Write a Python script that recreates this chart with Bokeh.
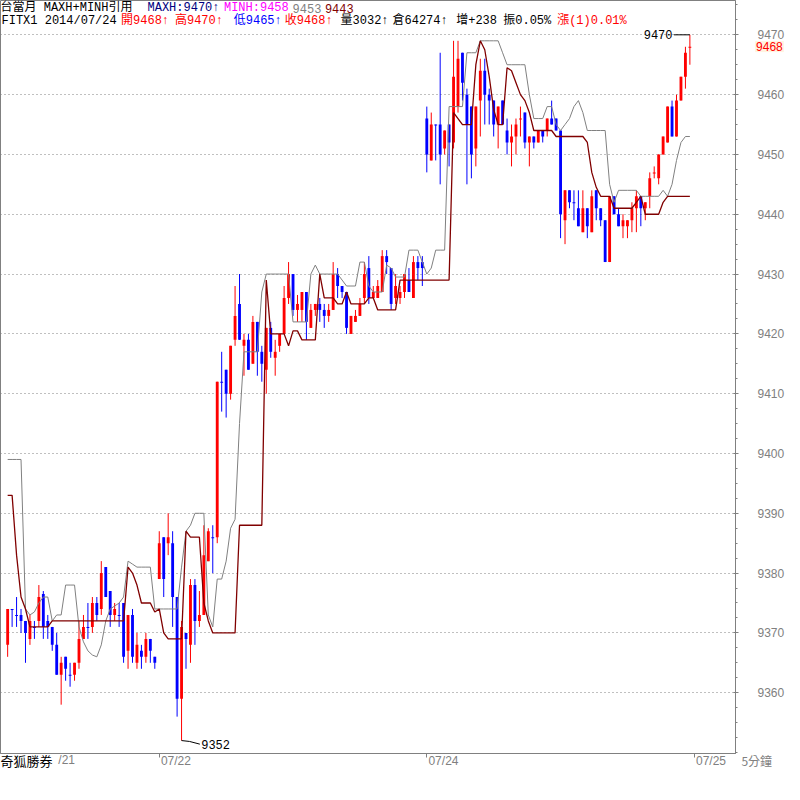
from bokeh.plotting import figure
from bokeh.models import Range1d, FixedTicker, Label, BoxAnnotation
from bokeh.embed import file_html
from bokeh.resources import INLINE

# ---------------- data (5-minute bars, FITX1) ----------------
opens = [9368, 9374, 9373, 9373, 9372, 9369, 9371, 9372, 9376.5, 9372,
         9371, 9368, 9363, 9366, 9363, 9363, 9365, 9369, 9371, 9371,
         9375, 9374, 9381, 9377, 9373, 9373, 9375, 9367, 9373, 9365,
         9367, 9366, 9369, 9366, 9379, 9386, 9385, 9385, 9376, 9359,
         9370, 9368, 9378, 9372, 9373, 9382, 9386, 9386, 9412, 9414,
         9410, 9419, 9425, 9418, 9419, 9415, 9422, 9417, 9414, 9421,
         9416, 9418, 9420, 9426, 9430, 9424, 9424, 9427, 9421, 9424,
         9425, 9424, 9423, 9424, 9430, 9428, 9427, 9420, 9422, 9423,
         9426, 9431, 9426, 9426, 9427, 9433, 9431, 9426, 9426, 9427,
         9429, 9426, 9432, 9432, 9456, 9449, 9455, 9455, 9451, 9455,
         9452, 9458, 9467, 9460, 9458, 9451, 9459, 9464, 9460, 9459,
         9455, 9459, 9454, 9452, 9453, 9456, 9457, 9452, 9453, 9452,
         9454, 9454, 9456, 9456, 9454, 9439, 9444, 9442, 9441, 9437,
         9441, 9437, 9444, 9441, 9439, 9432, 9443, 9440, 9438, 9438,
         9439, 9441, 9443, 9441, 9443, 9447, 9446, 9450, 9452, 9458,
         9453, 9459, 9463, 9468]
highs = [9374, 9374, 9376, 9374, 9372, 9373, 9372, 9378, 9377, 9373,
         9371, 9370, 9366, 9366, 9365, 9365, 9372, 9373, 9375, 9376,
         9376, 9382, 9381, 9377, 9375, 9375, 9375, 9373, 9374, 9370,
         9368, 9370, 9369, 9366, 9387, 9386, 9390, 9387, 9376, 9372,
         9370, 9379, 9379, 9377, 9388, 9387.5, 9388, 9412, 9417, 9414,
         9418, 9428, 9430, 9420, 9420, 9423, 9422, 9418, 9421, 9422,
         9419, 9420, 9428, 9432, 9430, 9426.5, 9427, 9427, 9425, 9425,
         9426, 9425, 9425, 9432, 9431, 9428, 9427, 9423, 9424, 9426,
         9432, 9433, 9428, 9429, 9434, 9434, 9431, 9430, 9428, 9430,
         9431, 9433, 9433, 9433, 9458, 9457, 9455, 9467, 9454, 9455,
         9469, 9469, 9467, 9461, 9458, 9458, 9466, 9466, 9461, 9459,
         9458, 9459, 9456, 9455, 9456, 9458, 9457, 9453, 9453, 9454,
         9454, 9456, 9459, 9456, 9454, 9444, 9444, 9444, 9444, 9444,
         9441, 9444, 9444, 9441, 9439, 9443, 9443, 9441, 9440, 9439,
         9442, 9444, 9443, 9442, 9447, 9448, 9450, 9453, 9458, 9459,
         9460, 9463, 9468, 9470]
lows = [9366, 9371, 9371, 9370, 9365, 9368, 9369, 9371, 9369, 9369,
        9367, 9363, 9358, 9362, 9361, 9362, 9364, 9369, 9369, 9370,
        9372, 9373, 9376, 9371, 9372, 9371, 9365, 9364, 9365, 9364,
        9364, 9365, 9365, 9364, 9379, 9376, 9383, 9371, 9356, 9352,
        9364, 9365, 9368, 9371, 9373, 9382, 9380, 9385, 9407, 9406,
        9409, 9418, 9419, 9413, 9414, 9415, 9413, 9412, 9410, 9416,
        9413, 9417, 9420, 9425, 9423, 9422, 9422, 9419, 9421, 9423,
        9422, 9421, 9422, 9424, 9426, 9426, 9420, 9420, 9422, 9423,
        9425, 9425, 9426, 9426, 9427, 9430, 9424, 9425, 9425, 9426,
        9427, 9426, 9429, 9428, 9447, 9449, 9449, 9445, 9450, 9448,
        9451, 9457, 9459, 9445, 9446, 9448, 9453, 9455, 9455, 9453,
        9451, 9455, 9450, 9448, 9450, 9453, 9451, 9448, 9451, 9452,
        9452, 9453, 9455, 9454, 9436, 9435, 9441, 9439, 9438, 9437,
        9436, 9437, 9439, 9438, 9432, 9432, 9440, 9438, 9436, 9436,
        9437, 9437, 9438, 9439, 9441, 9446, 9445, 9450, 9452, 9453,
        9453, 9459, 9461, 9465]
closes = [9374, 9374, 9373, 9372, 9370, 9372, 9371, 9376, 9371, 9371,
          9368, 9363, 9365, 9364, 9363, 9365, 9369, 9371, 9371, 9375,
          9373, 9380, 9376, 9373, 9374, 9373, 9366, 9373, 9366, 9368,
          9366, 9369, 9367, 9365, 9385, 9379, 9386, 9376, 9359, 9371,
          9369, 9378, 9372, 9373, 9383, 9387, 9386, 9412, 9412, 9410,
          9418, 9423, 9419, 9419, 9414, 9422, 9417, 9415, 9421, 9417,
          9417, 9420, 9426, 9430, 9424, 9425, 9427, 9422, 9424, 9425,
          9424, 9423, 9424, 9430, 9428, 9427, 9421, 9423, 9423, 9425,
          9430, 9426, 9427, 9428, 9433, 9432, 9425, 9428, 9427, 9430,
          9427, 9432, 9431, 9431, 9450, 9455, 9455, 9450, 9454, 9452,
          9463, 9466, 9462, 9455, 9450, 9458, 9464, 9460, 9459, 9455,
          9458, 9455, 9452, 9453, 9455, 9456, 9452, 9453, 9452, 9454,
          9453, 9456, 9455, 9454, 9440, 9444, 9442, 9442, 9438, 9441,
          9438, 9443, 9441, 9439, 9432, 9443, 9440, 9438, 9439, 9439,
          9441, 9443, 9441, 9442, 9446, 9447, 9450, 9453, 9458, 9453,
          9459, 9463, 9467, 9468]
# grey reference line (9453 at the last bar)
grey_line = [9399, 9399, 9399, 9399, 9374, 9373, 9373.5, 9375, 9376, 9376,
             9372, 9373, 9373, 9378, 9378, 9378, 9371, 9368.5, 9367, 9366.3,
             9366, 9368, 9372, 9374, 9374.5, 9375, 9376, 9382, 9381.5, 9381,
             9381, 9381, 9381, 9374, 9374, 9374, 9374, 9374, 9374, 9381,
             9387, 9388, 9390, 9390, 9390, 9373, 9371, 9379, 9379, 9382,
             9387.5, 9389, 9405, 9417, 9417, 9417, 9417, 9427, 9430, 9430,
             9430, 9430, 9430, 9430, 9422, 9422, 9422, 9422, 9430, 9431.5,
             9430, 9430, 9430, 9430, 9430, 9429, 9428, 9428, 9428, 9432,
             9432, 9428, 9427, 9427, 9427, 9431.5, 9431, 9429.5, 9429.5, 9429.5,
             9434, 9434, 9434, 9432, 9430, 9431, 9434, 9434, 9434, 9458,
             9458, 9458, 9458, 9467, 9467, 9467, 9469, 9469, 9469, 9469,
             9469, 9467, 9465, 9465, 9465, 9465, 9465, 9460, 9456, 9456,
             9456, 9458, 9458, 9455, 9454, 9455, 9456, 9458, 9459, 9457,
             9454, 9454, 9454, 9454, 9454, 9445, 9442, 9444, 9444, 9444,
             9444, 9444, 9443, 9443, 9443, 9443, 9443, 9444, 9443, 9445,
             9449, 9452, 9453, 9453]
# dark red reference line (9443 at the last bar)
maroon_line = [9393, 9393, 9383, 9376, 9374, 9371, 9371, 9371, 9371, 9371,
               9372, 9372, 9372, 9372, 9372, 9372, 9372, 9372, 9372, 9372,
               9372, 9372, 9372, 9372, 9372, 9372, 9372, 9381, 9380, 9378,
               9375, 9375, 9375, 9373.5, 9374, 9370, 9369, 9369, 9369, 9369,
               9387, 9386, 9386, 9386, 9375, 9372, 9370, 9370, 9370, 9370,
               9370, 9370, 9388, 9388, 9388, 9388, 9388, 9388, 9429, 9420,
               9420, 9420, 9420, 9418, 9420.5, 9420.5, 9419, 9419, 9419, 9419,
               9430, 9426, 9426, 9426, 9425, 9425, 9427, 9425, 9425, 9425,
               9425, 9426, 9426, 9424, 9424, 9424, 9424, 9424, 9429, 9429,
               9429, 9429, 9429, 9429, 9429, 9429, 9429, 9429, 9429, 9429,
               9457, 9456, 9455, 9455, 9455, 9465, 9469, 9467.5, 9463, 9457.5,
               9455, 9455, 9464.5, 9464, 9462, 9460, 9459, 9457, 9454, 9454,
               9454, 9454, 9454, 9453, 9453, 9453, 9453, 9453, 9453, 9453,
               9452, 9447, 9444.5, 9443, 9443, 9443, 9441, 9441, 9441, 9441,
               9441, 9442, 9443, 9440, 9440, 9440, 9440, 9442, 9443, 9443,
               9443, 9443, 9443, 9443]
day_ticks = [34, 94, 154]
day_labels = ["07/22", "07/24", "07/25"]
price_ticks = list(range(9360, 9471, 10))

# ---------------- layout helpers (reference pixel -> data) ----------------
BAR0, STEP = 7.3, 4.55          # x pixel of bar 0, pixels per bar
Y9470, PPT = 35.0, 6.1          # y pixel of 9470, pixels per point
S = 0.98                        # overall scale of the page
FRAME_W, FRAME_H = 750, 768     # reference frame size


def px(x):
    return (x - BAR0) / STEP


def py(y):
    return 9470 - (y - Y9470) / PPT


GREY, MAROON = "#808080", "#800000"
RED, BLUE = "#ff0000", "#0000ff"
MONO = "'Liberation Mono', 'Noto Sans CJK TC', monospace"
CJK = "'Noto Sans CJK TC', sans-serif"
NUM = "'Liberation Sans', sans-serif"
NB = "\u00a0"

p = figure(frame_width=round(FRAME_W * S), frame_height=round(FRAME_H * S), title=None,
           x_range=Range1d(px(0), px(FRAME_W)), y_range=Range1d(py(FRAME_H), py(0)),
           y_axis_location="right", toolbar_location=None, output_backend="svg",
           min_border_left=0, min_border_top=0,
           min_border_right=784 - round(FRAME_W * S),
           min_border_bottom=784 - round(FRAME_H * S))
p.background_fill_color = "white"
p.border_fill_color = "white"
p.outline_line_color = GREY

# axes
minor = [price_ticks[0] - 10 + 2.5 * k for k in range(4 * (len(price_ticks) + 1) + 1)]
ya = p.yaxis[0]
ya.ticker = FixedTicker(ticks=price_ticks, minor_ticks=minor)
ya.axis_line_color = GREY
ya.major_tick_line_color = GREY
ya.minor_tick_line_color = GREY
ya.major_tick_in = 2
ya.major_tick_out = 3
ya.minor_tick_in = 0
ya.minor_tick_out = 2
ya.major_label_standoff = 19
ya.major_label_text_color = GREY
ya.major_label_text_font = NUM
ya.major_label_text_font_size = "12px"

xa = p.xaxis[0]
xa.ticker = FixedTicker(ticks=day_ticks)
xa.major_label_overrides = {t: NB * 10 + s for t, s in zip(day_ticks, day_labels)}
xa.axis_line_color = GREY
xa.major_tick_line_color = GREY
xa.minor_tick_line_color = None
xa.major_tick_in = 0
xa.major_tick_out = 4
xa.major_label_standoff = -4
xa.major_label_text_color = GREY
xa.major_label_text_font = NUM
xa.major_label_text_font_size = "12px"

p.xgrid.grid_line_color = None
p.ygrid.grid_line_color = GREY
p.ygrid.grid_line_dash = "1 3"

# ---------------- candles ----------------
idx = list(range(len(closes)))
colors = []
for i, (o, c) in enumerate(zip(opens, closes)):
    if c > o:
        colors.append(RED)
    elif c < o:
        colors.append(BLUE)
    else:
        prev = closes[i - 1] if i else c
        colors.append(RED if c > prev else BLUE)
tops = [max(o, c) for o, c in zip(opens, closes)]
bots = [min(o, c) if o != c else max(o, c) - 0.17 for o, c in zip(opens, closes)]

p.segment(x0=idx, y0=lows, x1=idx, y1=highs, line_color=colors, line_width=1)
p.vbar(x=idx, width=0.64, top=tops, bottom=bots, fill_color=colors, line_color=None)

p.line(idx, grey_line, line_color=GREY, line_width=1)
p.line(idx, maroon_line, line_color=MAROON, line_width=1.3)

# extreme markers
lo_i = min(idx, key=lambda i: lows[i])
hi_i = max(idx, key=lambda i: highs[i])
p.line([lo_i, lo_i + 1.8, lo_i + 4.1], [lows[lo_i], lows[lo_i] - 0.15, lows[lo_i] - 0.6],
       line_color="black", line_width=1)
p.add_layout(Label(x=lo_i + 4.4, y=lows[lo_i] - 0.6, text=f"{lows[lo_i]:.0f}",
                   text_font=MONO, text_font_size="12px", text_color="black",
                   text_baseline="middle", text_align="left"))
p.line([hi_i - 3.6, hi_i], [highs[hi_i], highs[hi_i]], line_color="black", line_width=1)
p.add_layout(Label(x=hi_i - 3.9, y=highs[hi_i], text=f"{highs[hi_i]:.0f}",
                   text_font=MONO, text_font_size="12px", text_color="black",
                   text_baseline="middle", text_align="right"))

# dark surround below / right of the chart window
p.add_layout(BoxAnnotation(left=px(-20), right=px(900), top=py(783), bottom=py(900),
                           fill_color="black", fill_alpha=1, line_color=GREY), "below")
p.add_layout(BoxAnnotation(left=px(797), right=px(900), top=py(-20), bottom=py(900),
                           fill_color="black", fill_alpha=1, line_color=None), "right")


# ---------------- texts (header inside the frame, others in side panels) ----------------
def head(x, y, text, color, font=MONO, size="12px", place=None, **kw):
    lab = Label(x=px(x), y=py(y), text=text, text_color=color,
                text_font=font, text_font_size=size,
                text_baseline="middle", text_align="left", **kw)
    if place is None:
        p.add_layout(lab)
    else:
        p.add_layout(lab, place)


head(0, 8, "台當月 MAXH+MINH引用", "black")
head(150, 8, "MAXH:9470↑", "#000080")
head(228, 8, "MINH:9458", "#ff00ff")
head(298, 8, "9453", GREY)
head(331, 8, "9443", MAROON)

head(1, 21, "FITX1 2014/07/24", "black")
head(123, 21, "開9468↑", RED)
head(178, 21, "高9470↑", RED)
head(238, 21, "低9465↑", BLUE)
head(290, 21, "收9468↑", RED)
head(347, 21, "量3032↑", "black")
head(400, 21, "倉64274↑", "black")
head(465, 21, "增+238", "black")
head(513, 21, "振0.05%", "black")
head(568, 21, "漲(1)0.01%", RED)

head(770, 47, f"{closes[-1]:.0f}", RED, font=NUM, place="right",
     background_fill_color="#fff3e0", padding=1)
head(0, 775, "奇狐勝券", "black", font=CJK, size="13px", place="below")
head(59, 775, "/21", GREY, font=NUM, place="below")
head(756, 775, "5分鐘", GREY, font=CJK, place="below")

open("out.html", "w").write(file_html(p, INLINE))
